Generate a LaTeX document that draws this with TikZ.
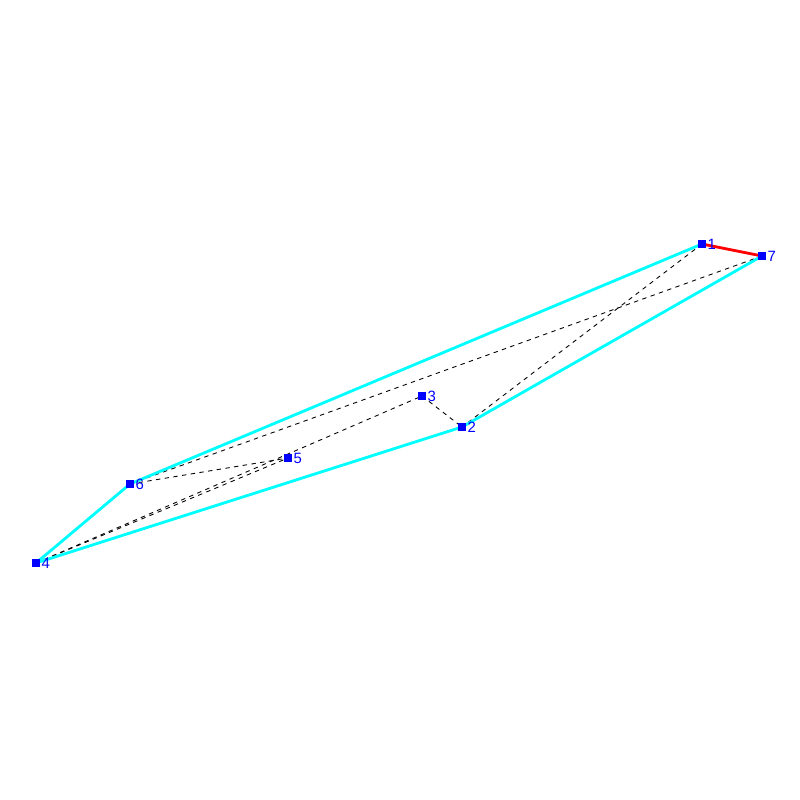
\documentclass[tikz,border=0pt]{standalone}
\usepackage{fontspec}
\setsansfont{Liberation Sans}
\usetikzlibrary{positioning}
\definecolor{hullcyan}{RGB}{0,255,255}
\definecolor{ptblue}{RGB}{0,0,255}
\definecolor{cutred}{RGB}{255,0,0}

\begin{document}
\begin{tikzpicture}[
  x=0.02cm, y=-0.02cm,
  pt/.style={draw=none, fill=ptblue, minimum size=0.16cm, inner sep=0pt},
  lbl/.style={right=0pt of #1, inner sep=0.5pt, font=\sffamily\fontsize{8.5}{8.5}\selectfont, text=ptblue},
  hull/.style={draw=hullcyan, line width=1.6pt},
  chord/.style={draw=black, line width=0.5pt, dash pattern=on 2.5pt off 2.5pt},
  cut/.style={draw=cutred, line width=1.6pt}
]
  \useasboundingbox (0,0) rectangle (800,800);

  \node[pt] (p1) at (702,244) {};
  \node[pt] (p2) at (462,427) {};
  \node[pt] (p3) at (422,396) {};
  \node[pt] (p4) at (36,563) {};
  \node[pt] (p5) at (288,458) {};
  \node[pt] (p6) at (130,484) {};
  \node[pt] (p7) at (762,256) {};

  % inner chords
  \draw[chord] (p6.center) -- (p7.center);
  \draw[chord] (p1.center) -- (p2.center);
  \draw[chord] (p3.center) -- (p2.center);
  \draw[chord] (p6.center) -- (p5.center);
  \draw[chord] (p4.center) -- (p5.center);
  \draw[chord] (p4.center) -- (p3.center);

  % outline
  \draw[hull] (p1.center) -- (p6.center);
  \draw[hull] (p6.center) -- (p4.center);
  \draw[hull] (p4.center) -- (p2.center);
  \draw[hull] (p2.center) -- (p7.center);
  \draw[cut] (p1.center) -- (p7.center);

  \foreach \i in {1,...,7}
    \node[pt] at (p\i) {};
  \foreach \i in {1,...,7}
    \node[lbl=p\i] {\i};
\end{tikzpicture}
\end{document}
